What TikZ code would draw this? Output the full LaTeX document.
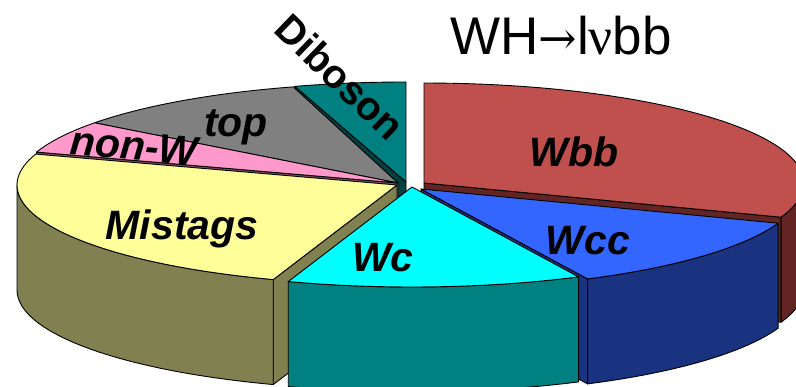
\documentclass[tikz,border=0pt]{standalone}
\usepackage{fontspec}
\setmainfont{Liberation Sans}
\newfontfamily\nufont{Liberation Serif}
\newfontfamily\arrowfont{DejaVu Serif}
\definecolor{wbbtop}{RGB}{192,80,77}
\definecolor{wbbside}{RGB}{99,37,35}
\definecolor{wcctop}{RGB}{51,102,255}
\definecolor{wccside}{RGB}{26,51,128}
\definecolor{wctop}{RGB}{0,255,255}
\definecolor{wcside}{RGB}{0,128,128}
\definecolor{mistop}{RGB}{255,255,153}
\definecolor{misside}{RGB}{128,128,80}
\definecolor{nonwtop}{RGB}{255,153,204}
\definecolor{nonwside}{RGB}{128,76,102}
\definecolor{toptop}{RGB}{128,128,128}
\definecolor{dibtop}{RGB}{0,128,128}
\definecolor{dibside}{RGB}{0,64,64}
\newcommand\pieA{380}
\newcommand\pieB{100}
\newcommand\pieD{105}
% top face: cx cy t1 t2 colour
\newcommand\PieTop[5]{%
  \filldraw[piepart,fill=#5] (#1,#2) -- plot[domain=#3:#4,samples=50] ({#1+\pieA*cos(\x)},{#2+\pieB*sin(\x)}) -- cycle;}
% outer wall: cx cy t1 t2 colour
\newcommand\PieWall[5]{%
  \filldraw[piepart,fill=#5] plot[domain=#3:#4,samples=50] ({#1+\pieA*cos(\x)},{#2+\pieB*sin(\x)}) -- plot[domain=#4:#3,samples=50] ({#1+\pieA*cos(\x)},{#2+\pieD+\pieB*sin(\x)}) -- cycle;}
% radial cut face: cx cy t colour
\newcommand\PieFace[4]{%
  \filldraw[piepart,fill=#4] (#1,#2) -- ({#1+\pieA*cos(#3)},{#2+\pieB*sin(#3)}) -- ++(0,\pieD) -- (#1,#2+\pieD) -- cycle;}
\begin{document}
\begin{tikzpicture}[x=1pt,y=-1pt,
  piepart/.style={draw=black,line width=0.9pt,line join=round},
  slicelabel/.style={font=\fontsize{41}{45}\selectfont\bfseries\itshape,inner sep=0pt,anchor=base},
  titlelabel/.style={font=\fontsize{53}{60}\selectfont,inner sep=0pt,anchor=base west}]
\useasboundingbox (0,0) rectangle (796,387);
\clip (0,0) rectangle (796,387);
% Diboson
\PieFace{406}{182}{253}{dibside}
\PieTop{406}{182}{253}{270}{dibtop}
% top
\PieTop{398}{183}{217}{254}{toptop}
% non-W
\PieFace{398}{183}{198}{nonwside}
\PieTop{398}{183}{198}{217}{nonwtop}
% Wbb
\PieFace{424}{183}{380}{wbbside}
\PieWall{424}{183}{360}{380}{wbbside}
\PieTop{424}{183}{270}{380}{wbbtop}
% Mistags
\PieFace{397}{185}{109}{misside}
\PieWall{397}{185}{109}{180}{misside}
\PieTop{397}{185}{109}{198}{mistop}
% Wcc
\PieFace{421}{189}{64}{wccside}
\PieWall{421}{189}{20}{64}{wccside}
\PieTop{421}{189}{20}{64}{wcctop}
% Wc
\PieWall{412}{187}{64}{109}{wcside}
\PieTop{412}{187}{64}{109}{wctop}
% labels
\node[titlelabel] (title) at (450,55) {WH{\arrowfont\fontsize{46}{50}\selectfont →}l{\nufont ν}bb};
\node[slicelabel] (lwbb) at (574,167) {Wbb};
\node[slicelabel] (lwcc) at (588,255) {Wcc};
\node[slicelabel] (lwc) at (383,272) {Wc};
\node[slicelabel] (lmis) at (182,240) {Mistags};
\node[slicelabel,rotate=-5] (lnonw) at (133,160) {non-W};
\node[slicelabel] (ltop) at (236,137) {top};
\node[font=\fontsize{40}{44}\selectfont\bfseries,inner sep=0pt,rotate=-44] (ldib) at (340,77) {Diboson};
\end{tikzpicture}
\end{document}
